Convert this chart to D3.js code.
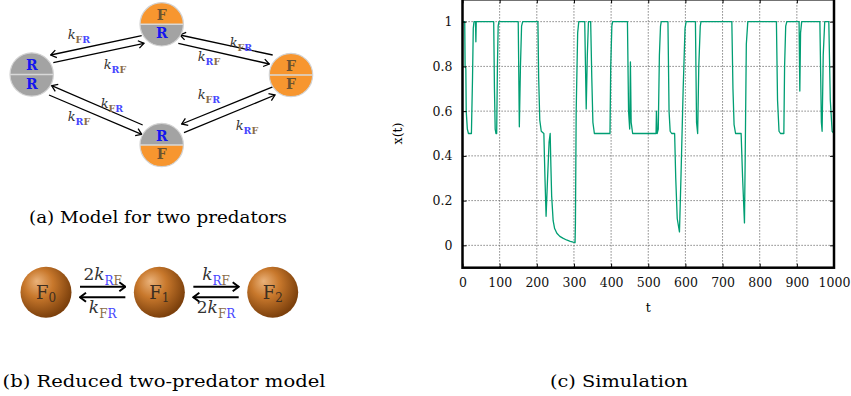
<!DOCTYPE html>
<html>
<head>
<meta charset="utf-8">
<script src="https://cdn.jsdelivr.net/npm/d3@7"></script>
<style>
  body { margin: 0; background: #fff; }
  svg { display: block; }
  text { font-family: "DejaVu Serif", serif; }
</style>
</head>
<body>
<div id="fig"></div>
<script>
// ---- data ----
// (a) four states of two predators (top letter / bottom letter)
const statesA = [
  { id: 'RR', top: 'R', bottom: 'R' },
  { id: 'FR', top: 'F', bottom: 'R' },
  { id: 'FF', top: 'F', bottom: 'F' },
  { id: 'RF', top: 'R', bottom: 'F' }
];
const transitionsA = [
  { from: 'FR', to: 'RR', rate: 'FR' },
  { from: 'RR', to: 'FR', rate: 'RF' },
  { from: 'FF', to: 'FR', rate: 'FR' },
  { from: 'FR', to: 'FF', rate: 'RF' },
  { from: 'RF', to: 'RR', rate: 'FR' },
  { from: 'RR', to: 'RF', rate: 'RF' },
  { from: 'FF', to: 'RF', rate: 'FR' },
  { from: 'RF', to: 'FF', rate: 'RF' }
];
// (b) reduced model
const statesB = ['0', '1', '2'];
const forwardCoef = ['2', ''];
const backwardCoef = ['', '2'];

// (c) simulation x(t)
const tValues = [
  0, 6, 7, 9, 10, 13, 16, 24, 27, 29, 31, 35, 36, 37,
  84, 86, 88, 90, 92, 94, 96, 98,
  150, 153, 156, 159, 162,
  203, 205, 208, 212, 219, 222, 225, 229, 233, 236, 238, 240, 244, 248, 254, 262, 270, 280, 290, 298, 303, 304, 306, 310, 313,
  329, 333, 336, 339,
  345, 348, 351, 355,
  397, 399, 402, 404,
  444, 447, 450, 452, 454, 458,
  521, 522, 524, 527, 530, 533, 535,
  553, 556, 559, 563, 571, 574, 578, 584, 588, 594, 599, 602,
  627, 630, 633, 636, 640, 642,
  725, 728, 731, 735, 750, 754, 759, 761, 764, 768,
  845, 848, 852, 856, 865, 867, 870, 873,
  906, 908, 910, 913,
  962, 966, 968, 971, 975,
  986, 990, 995, 1000
];
const xValues = [
  1, 1, 0.8, 0.79, 0.6, 0.52, 0.5, 0.5, 0.75, 0.97, 1, 1, 0.91, 1,
  1, 0.7, 0.52, 0.5, 0.5, 0.8, 0.98, 1,
  1, 0.53, 0.8, 0.98, 1,
  1, 0.75, 0.56, 0.51, 0.5, 0.3, 0.13, 0.3, 0.46, 0.5, 0.35, 0.22, 0.11, 0.075, 0.054, 0.04, 0.032, 0.024, 0.018, 0.014, 0.012, 0.1, 0.6, 0.95, 1,
  1, 0.61, 0.85, 1,
  1, 0.75, 0.55, 0.5,
  0.5, 0.8, 0.98, 1,
  1, 0.6, 0.52, 0.82, 0.55, 0.5,
  0.5, 0.6, 0.5, 0.52, 0.85, 0.98, 1,
  1, 0.6, 0.51, 0.5, 0.5, 0.3, 0.12, 0.06, 0.3, 0.7, 0.97, 1,
  1, 0.55, 0.5, 0.8, 0.98, 1,
  1, 0.7, 0.54, 0.5, 0.5, 0.3, 0.1, 0.4, 0.9, 1,
  1, 0.65, 0.51, 0.5, 0.5, 0.8, 0.98, 1,
  1, 0.69, 0.95, 1,
  1, 0.55, 0.51, 0.85, 1,
  1, 0.65, 0.51, 0.5
];
const xTicks = [0, 100, 200, 300, 400, 500, 600, 700, 800, 900, 1000];
const yTicks = [0, 0.2, 0.4, 0.6, 0.8, 1];

// ---- styles ----
const colR = '#1414f0', colF = '#6b5230';
const subR = '#4646ff', subF = '#8a6c48';
const greyHalf = '#a3a3a3', orangeHalf = '#f7962f';

const svg = d3.select('#fig').append('svg')
  .attr('width', 851).attr('height', 396);

const defs = svg.append('defs');
defs.append('marker')
  .attr('id', 'headA')
  .attr('viewBox', '-7 -5 8 10')
  .attr('markerUnits', 'userSpaceOnUse')
  .attr('markerWidth', 8).attr('markerHeight', 10)
  .attr('refX', 0).attr('refY', 0)
  .attr('orient', 'auto')
  .append('path')
  .attr('d', 'M-5.5,-3.8 L0,0 L-5.5,3.8')
  .attr('fill', 'none').attr('stroke', '#000').attr('stroke-width', 1.3);
defs.append('marker')
  .attr('id', 'headB')
  .attr('viewBox', '-8 -6 9 12')
  .attr('markerUnits', 'userSpaceOnUse')
  .attr('markerWidth', 9).attr('markerHeight', 12)
  .attr('refX', 0).attr('refY', 0)
  .attr('orient', 'auto')
  .append('path')
  .attr('d', 'M-6,-4.5 L0,0 L-6,4.5')
  .attr('fill', 'none').attr('stroke', '#000').attr('stroke-width', 2);
const grad = defs.append('radialGradient')
  .attr('id', 'ball').attr('cx', '40%').attr('cy', '38%').attr('r', '62%')
  .attr('fx', '32%').attr('fy', '28%');
grad.append('stop').attr('offset', '0%').attr('stop-color', '#eab27a');
grad.append('stop').attr('offset', '45%').attr('stop-color', '#c8782c');
grad.append('stop').attr('offset', '100%').attr('stop-color', '#7c400c');

// rate label k_{..} with coloured subscript letters
function rateLabel(g, x, y, coef, sub, size, subSize, subWeight) {
  const t = g.append('text')
    .attr('x', x).attr('y', y)
    .attr('text-anchor', 'middle')
    .style('font-size', size + 'px')
    .attr('fill', '#333');
  if (coef) t.append('tspan').text(coef);
  t.append('tspan').style('font-style', 'italic').text('k');
  sub.split('').forEach((c, i) => {
    t.append('tspan')
      .attr('dy', i === 0 ? size * 0.28 : 0)
      .style('font-size', subSize + 'px')
      .style('font-weight', subWeight)
      .attr('fill', c === 'R' ? subR : subF)
      .text(c);
  });
}

// ---- (a) model for two predators ----
const gA = svg.append('g');
const nodePos = { RR: [31.7, 74.5], FR: [161.7, 24.3], FF: [291, 75], RF: [161.7, 145] };
const rA = 21.7;
const arrowPos = [
  [[141.7, 35.7], [50.7, 55], [79, 39]],
  [[53.3, 62.7], [144, 43.3], [115, 69]],
  [[272.7, 55], [180, 35], [241, 47]],
  [[178.3, 43.3], [269.3, 64], [209, 61]],
  [[142.7, 125], [51.7, 85.7], [112, 108]],
  [[49, 95], [141.7, 134.3], [79, 121]],
  [[273.3, 86.7], [181.7, 124], [209, 99]],
  [[184, 132.7], [275, 95], [247, 130]]
];
transitionsA.forEach((tr, i) => {
  const [p0, p1, lp] = arrowPos[i];
  gA.append('line')
    .attr('x1', p0[0]).attr('y1', p0[1]).attr('x2', p1[0]).attr('y2', p1[1])
    .attr('stroke', '#000').attr('stroke-width', 1.3)
    .attr('marker-end', 'url(#headA)');
  rateLabel(gA, lp[0], lp[1], '', tr.rate, 13, 9.5, 'bold');
});
statesA.forEach(s => {
  const [cx, cy] = nodePos[s.id];
  const g = gA.append('g');
  g.append('path')
    .attr('d', `M${cx - rA},${cy} A${rA},${rA} 0 0 1 ${cx + rA},${cy} Z`)
    .attr('fill', s.top === 'R' ? greyHalf : orangeHalf);
  g.append('path')
    .attr('d', `M${cx - rA},${cy} A${rA},${rA} 0 0 0 ${cx + rA},${cy} Z`)
    .attr('fill', s.bottom === 'R' ? greyHalf : orangeHalf);
  g.append('circle').attr('cx', cx).attr('cy', cy).attr('r', rA)
    .attr('fill', 'none').attr('stroke', '#d2d2d2').attr('stroke-width', 1.2);
  g.append('line').attr('x1', cx - rA).attr('x2', cx + rA).attr('y1', cy).attr('y2', cy)
    .attr('stroke', '#d8d8d8').attr('stroke-width', 1.5);
  [[s.top, -4.5], [s.bottom, 14]].forEach(([c, dy]) => {
    g.append('text')
      .attr('x', cx).attr('y', cy + dy)
      .attr('text-anchor', 'middle')
      .style('font-size', '14px').style('font-weight', 'bold')
      .attr('fill', c === 'R' ? colR : colF)
      .text(c);
  });
});
gA.append('text')
  .attr('x', 158).attr('y', 223)
  .attr('text-anchor', 'middle')
  .style('font-size', '17px')
  .attr('textLength', 258).attr('lengthAdjust', 'spacingAndGlyphs')
  .text('(a) Model for two predators');

// ---- (b) reduced two-predator model ----
const gB = svg.append('g');
const ballX = d3.scalePoint().domain(statesB).range([46, 272.7]);
const ballY = 292.3, rB = 25.5;
statesB.slice(0, -1).forEach((s, i) => {
  const x0 = ballX(s) + 34, x1 = ballX(statesB[i + 1]) - 34;
  gB.append('line')
    .attr('x1', x0).attr('x2', x1).attr('y1', 286.7).attr('y2', 286.7)
    .attr('stroke', '#000').attr('stroke-width', 2)
    .attr('marker-end', 'url(#headB)');
  gB.append('line')
    .attr('x1', x1).attr('x2', x0).attr('y1', 297.3).attr('y2', 297.3)
    .attr('stroke', '#000').attr('stroke-width', 2)
    .attr('marker-end', 'url(#headB)');
  const mid = (x0 + x1) / 2;
  rateLabel(gB, mid, 280, forwardCoef[i], 'RF', 17, 12, 'normal');
  rateLabel(gB, mid, 313, backwardCoef[i], 'FR', 17, 12, 'normal');
});
statesB.forEach(s => {
  gB.append('circle').attr('cx', ballX(s)).attr('cy', ballY).attr('r', rB)
    .attr('fill', 'url(#ball)');
  const t = gB.append('text')
    .attr('x', ballX(s)).attr('y', ballY + 6.5)
    .attr('text-anchor', 'middle')
    .style('font-size', '18px')
    .attr('fill', '#3e2e20');
  t.append('tspan').text('F');
  t.append('tspan').attr('dy', 3).style('font-size', '12px').text(s);
});
gB.append('text')
  .attr('x', 164).attr('y', 387)
  .attr('text-anchor', 'middle')
  .style('font-size', '17px')
  .attr('textLength', 323).attr('lengthAdjust', 'spacingAndGlyphs')
  .text('(b) Reduced two-predator model');

// ---- (c) simulation ----
const x = d3.scaleLinear().domain([0, 1000]).range([462.5, 834]);
const y = d3.scaleLinear().domain([-0.1, 1.1]).range([267.7, -0.7]);
const gC = svg.append('g');

// grid
gC.append('g').selectAll('line').data(xTicks.slice(1, -1)).join('line')
  .attr('x1', d => x(d)).attr('x2', d => x(d))
  .attr('y1', y(1.1)).attr('y2', y(-0.1))
  .attr('stroke', '#666').attr('stroke-width', 1).attr('stroke-dasharray', '1.2,1.8');
gC.append('g').selectAll('line').data(yTicks).join('line')
  .attr('x1', x(0)).attr('x2', x(1000))
  .attr('y1', d => y(d)).attr('y2', d => y(d))
  .attr('stroke', '#666').attr('stroke-width', 1).attr('stroke-dasharray', '1.2,1.8');

// curve
const series = tValues.map((t, i) => [t, xValues[i]]);
gC.append('path')
  .datum(series)
  .attr('fill', 'none')
  .attr('stroke', '#009e73')
  .attr('stroke-width', 1.3)
  .attr('stroke-linejoin', 'round')
  .attr('d', d3.line().x(d => x(d[0])).y(d => y(d[1])));

// axes (inward ticks)
const axB = gC.append('g').attr('transform', `translate(0,${y(-0.1)})`)
  .call(d3.axisBottom(x).tickValues(xTicks).tickFormat(d3.format('d')).tickSizeInner(-4).tickSizeOuter(0).tickPadding(10));
const axL = gC.append('g').attr('transform', `translate(${x(0)},0)`)
  .call(d3.axisLeft(y).tickValues(yTicks).tickFormat(d3.format('')).tickSizeInner(-4).tickSizeOuter(0).tickPadding(10));
gC.append('g').attr('transform', `translate(${x(1000)},0)`)
  .call(d3.axisRight(y).tickValues(yTicks).tickFormat('').tickSizeInner(-4).tickSizeOuter(0));
gC.append('g').attr('transform', `translate(0,${y(1.1)})`)
  .call(d3.axisTop(x).tickValues(xTicks).tickFormat('').tickSizeInner(-4).tickSizeOuter(0));
gC.selectAll('.domain').remove();
gC.selectAll('.tick line').attr('stroke', '#000').attr('stroke-width', 1);
[axB, axL].forEach(a => a.selectAll('text')
  .style('font-family', '"DejaVu Serif", serif')
  .style('font-size', '12.5px').attr('fill', '#111'));

// frame
gC.append('rect')
  .attr('x', x(0)).attr('y', y(1.1))
  .attr('width', x(1000) - x(0)).attr('height', y(-0.1) - y(1.1))
  .attr('fill', 'none').attr('stroke', '#000').attr('stroke-width', 2.5);

gC.append('text')
  .attr('transform', `translate(402,${y(0.5)}) rotate(-90)`)
  .attr('text-anchor', 'middle')
  .style('font-size', '12.5px')
  .text('x(t)');
gC.append('text')
  .attr('x', x(500)).attr('y', 312)
  .attr('text-anchor', 'middle')
  .style('font-size', '12.5px')
  .text('t');
gC.append('text')
  .attr('x', 619).attr('y', 387)
  .attr('text-anchor', 'middle')
  .style('font-size', '17px')
  .attr('textLength', 138).attr('lengthAdjust', 'spacingAndGlyphs')
  .text('(c) Simulation');
</script>
</body>
</html>
